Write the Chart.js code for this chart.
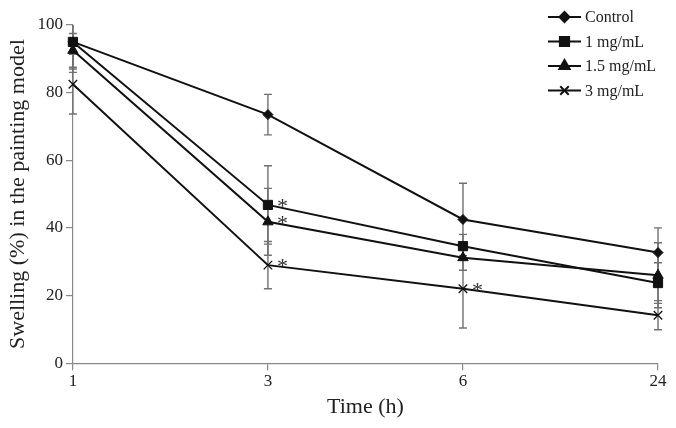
<!DOCTYPE html>
<html>
<head>
<meta charset="utf-8">
<script src="https://cdn.jsdelivr.net/npm/chart.js@4"></script>
<style>
  html, body { margin: 0; padding: 0; background: #fff; }
  #wrap { width: 676px; height: 428px; }
</style>
</head>
<body>
<div id="wrap"><canvas id="swellChart"></canvas></div>
<script>
// Data
const timeLabels = ['1', '3', '6', '24'];
const seriesNames = ['Control', '1 mg/mL', '1.5 mg/mL', '3 mg/mL'];
const controlVals = [95, 73.5, 42.5, 32.7];
const oneVals = [95, 46.8, 34.6, 23.7];
const onePointFiveVals = [92.5, 41.8, 31.2, 26];
const threeVals = [82.5, 29, 22, 14.2];
const controlErr = [8, 6, 10.7, 7.3];
const oneErr = [9, 11.6, 3.5, 6];
const onePointFiveErr = [5, 9.9, 3.7, 9.6];
const threeErr = [8.8, 7, 11.6, 4.3];
// asterisks: [series index, point index]
const starMarks = [[1, 1], [2, 1], [3, 1], [3, 2]];
const yTicks = [0, 20, 40, 60, 80, 100];

const serif = "'Liberation Serif', 'DejaVu Serif', serif";
const errs = [controlErr, oneErr, onePointFiveErr, threeErr];

function makeSet(label, data, style, radius) {
    return {
        label: label,
        data: data,
        borderColor: '#111',
        backgroundColor: '#111',
        borderWidth: 2,
        pointStyle: style,
        pointRadius: radius,
        pointHoverRadius: radius,
        pointBorderColor: '#111',
        pointBackgroundColor: '#111',
        pointBorderWidth: style === 'crossRot' ? 1.3 : 1,
        tension: 0
    };
}

// Error bars drawn from the arrays above
const errorBars = {
    id: 'errorBars',
    beforeDatasetsDraw(chart) {
        const ctx = chart.ctx;
        const y = chart.scales.y;
        ctx.save();
        ctx.strokeStyle = '#707070';
        ctx.lineWidth = 1.4;
        chart.data.datasets.forEach(function(ds, i) {
            const meta = chart.getDatasetMeta(i);
            meta.data.forEach(function(pt, j) {
                const v = ds.data[j], e = errs[i][j];
                const top = y.getPixelForValue(Math.min(v + e, 100));
                const bot = y.getPixelForValue(v - e);
                ctx.beginPath();
                ctx.moveTo(pt.x, top); ctx.lineTo(pt.x, bot);
                if (v + e <= 100) { ctx.moveTo(pt.x - 4, top); ctx.lineTo(pt.x + 4, top); }
                ctx.moveTo(pt.x - 4, bot); ctx.lineTo(pt.x + 4, bot);
                ctx.stroke();
            });
        });
        ctx.restore();
    }
};

// Asterisks and legend
const extras = {
    id: 'extras',
    afterDraw(chart) {
        const ctx = chart.ctx;
        ctx.save();
        ctx.fillStyle = '#333';
        ctx.font = '22px ' + serif;
        ctx.textAlign = 'left';
        ctx.textBaseline = 'middle';
        starMarks.forEach(function(s) {
            const pt = chart.getDatasetMeta(s[0]).data[s[1]];
            ctx.fillText('*', pt.x + 9, pt.y + 2);
        });

        // legend
        const x0 = 548, x1 = 581;
        ctx.font = '16px ' + serif;
        chart.data.datasets.forEach(function(ds, i) {
            const yy = 17 + i * 24.5;
            ctx.strokeStyle = '#111';
            ctx.lineWidth = 2;
            ctx.beginPath();
            ctx.moveTo(x0, yy); ctx.lineTo(x1, yy);
            ctx.stroke();
            ctx.fillStyle = '#111';
            Chart.helpers.drawPoint(ctx, {
                pointStyle: ds.pointStyle,
                radius: ds.pointRadius,
                borderWidth: ds.pointBorderWidth
            }, (x0 + x1) / 2, yy);
            ctx.fillStyle = '#222';
            ctx.fillText(ds.label, 585, yy + 1);
        });
        ctx.restore();
    }
};

new Chart(document.getElementById('swellChart'), {
    type: 'line',
    data: {
        labels: timeLabels,
        datasets: [
            makeSet(seriesNames[0], controlVals, 'rectRot', 5),
            makeSet(seriesNames[1], oneVals, 'rect', 6.5),
            makeSet(seriesNames[2], onePointFiveVals, 'triangle', 6),
            makeSet(seriesNames[3], threeVals, 'crossRot', 6)
        ]
    },
    options: {
        responsive: true,
        maintainAspectRatio: false,
        animation: false,
        layout: { padding: { top: 25, right: 18, left: 1, bottom: 4 } },
        plugins: {
            legend: { display: false },
            tooltip: { enabled: false }
        },
        scales: {
            x: {
                offset: false,
                grid: { display: true, drawOnChartArea: false, tickLength: 7, color: '#888', lineWidth: 1.2 },
                border: { color: '#888', width: 1.2 },
                ticks: { color: '#222', font: { family: serif, size: 17 }, padding: 1 },
                title: { display: true, text: 'Time (h)', color: '#222', font: { family: serif, size: 22 }, padding: { top: 1 } }
            },
            y: {
                min: 0,
                max: 100,
                afterBuildTicks(axis) { axis.ticks = yTicks.map(function(v) { return { value: v }; }); },
                grid: { display: true, drawOnChartArea: false, tickLength: 7, color: '#888', lineWidth: 1.2 },
                border: { color: '#888', width: 1.2 },
                ticks: { color: '#222', font: { family: serif, size: 17 }, padding: 3 },
                title: { display: true, text: 'Swelling (%) in the painting model', color: '#222', font: { family: serif, size: 22 }, padding: { bottom: 3 } }
            }
        }
    },
    plugins: [errorBars, extras]
});
</script>
</body>
</html>
